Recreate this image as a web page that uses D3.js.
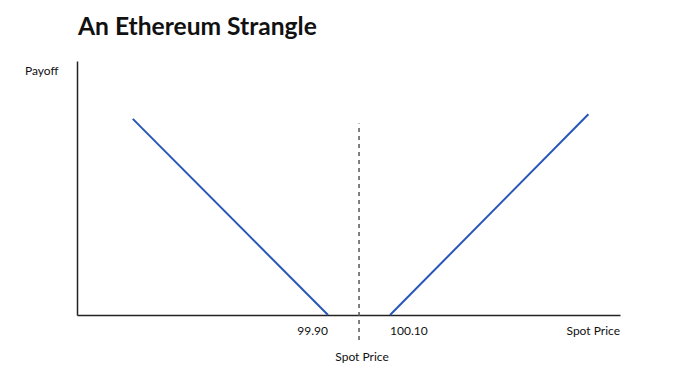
<!DOCTYPE html>
<html>
<head>
<meta charset="utf-8">
<script src="https://cdn.jsdelivr.net/npm/d3@7"></script>
<style>
  body { margin: 0; background: #fff; }
  text { font-family: Lato, "Open Sans", sans-serif; fill: #111; }
</style>
</head>
<body>
<div id="chart"></div>
<script>
// strangle: long put at 99.90, long call at 100.10, spot 100.00
var strikes = [99.90, 100.10]
var strikeLabels = ["99.90", "100.10"]
var spot = 100.00
var putLeg = [{price: 99.27, payoff: 0.63}, {price: 99.90, payoff: 0}]
var callLeg = [{price: 100.10, payoff: 0}, {price: 100.74, payoff: 0.645}]
var spotMarker = [-0.08, 0.615]   // payoff extent of the dashed spot line

var width = 690, height = 376
var margin = {top: 61, right: 70, bottom: 61, left: 77}

var x = d3.scaleLinear()
    .domain([99.09, 100.842])
    .range([margin.left, width - margin.right])
var y = d3.scaleLinear()
    .domain([0, 0.816])
    .range([height - margin.bottom, margin.top])

var svg = d3.select("#chart").append("svg")
    .attr("width", width)
    .attr("height", height)

svg.append("text")
    .attr("x", 78)
    .attr("y", 35)
    .style("font-size", "24.6px")
    .style("font-weight", "bold")
    .text("An Ethereum Strangle")

// axes
var xAxis = d3.axisBottom(x).tickValues([]).tickSize(0).tickSizeOuter(0)
var yAxis = d3.axisLeft(y).tickValues([]).tickSize(0).tickSizeOuter(0)

svg.append("g")
    .attr("transform", "translate(0," + y(0) + ")")
    .call(xAxis)
    .select(".domain").attr("stroke", "#222").attr("stroke-width", 1.5)
svg.append("g")
    .attr("transform", "translate(" + x.range()[0] + ",0)")
    .call(yAxis)
    .select(".domain").attr("stroke", "#222").attr("stroke-width", 1.5)

// spot marker
svg.append("line")
    .attr("x1", x(spot)).attr("x2", x(spot))
    .attr("y1", y(spotMarker[0])).attr("y2", y(spotMarker[1]))
    .attr("stroke", "#555")
    .attr("stroke-width", 1.5)
    .attr("stroke-dasharray", "4,4")

var line = d3.line()
    .x(function (d) { return x(d.price) })
    .y(function (d) { return y(d.payoff) })

svg.selectAll(".leg")
    .data([putLeg, callLeg])
  .enter().append("path")
    .attr("class", "leg")
    .attr("d", line)
    .attr("fill", "none")
    .attr("stroke", "#2855b8")
    .attr("stroke-width", 2)

// labels
svg.append("text")
    .attr("x", 25).attr("y", 75)
    .style("font-size", "12px")
    .text("Payoff")

svg.selectAll(".strike")
    .data(strikes)
  .enter().append("text")
    .attr("class", "strike")
    .attr("x", function (d) { return x(d) })
    .attr("y", 335)
    .attr("text-anchor", function (d, i) { return i == 0 ? "end" : "start" })
    .style("font-size", "12px")
    .text(function (d, i) { return strikeLabels[i] })

svg.append("text")
    .attr("x", x.range()[1]).attr("y", 335)
    .attr("text-anchor", "end")
    .style("font-size", "12px")
    .text("Spot Price")

svg.append("text")
    .attr("x", x(spot) + 3).attr("y", 361)
    .attr("text-anchor", "middle")
    .style("font-size", "12px")
    .text("Spot Price")
</script>
</body>
</html>
